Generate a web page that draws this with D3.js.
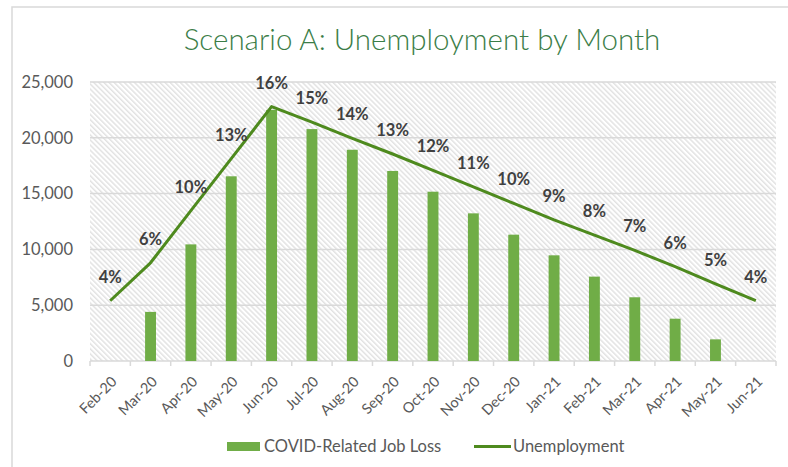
<!DOCTYPE html>
<html>
<head>
<meta charset="utf-8">
<script src="https://cdn.jsdelivr.net/npm/d3@7"></script>
<style>
  html, body { margin: 0; padding: 0; background: #fff; }
  svg { display: block; font-family: Lato, "Open Sans", sans-serif; }
</style>
</head>
<body>
<svg id="chart" width="788" height="467"></svg>
<script>
// Months on the category axis
const months = ["Feb-20","Mar-20","Apr-20","May-20","Jun-20","Jul-20","Aug-20","Sep-20",
  "Oct-20","Nov-20","Dec-20","Jan-21","Feb-21","Mar-21","Apr-21","May-21","Jun-21"];

// COVID-related job loss (bars)
const jobLoss = [0, 4400, 10450, 16550, 22500, 20780, 18930, 17030,
  15170, 13230, 11320, 9470, 7560, 5710, 3790, 1940, 0];

// Unemployment (line)
const unemployment = [5400, 8800, 13470, 18130, 22800, 21400, 19950, 18550,
  17090, 15600, 14120, 12650, 11280, 9910, 8450, 6900, 5400];

// Unemployment rate labels shown over the line
const rateLabels = ["4%","6%","10%","13%","16%","15%","14%","13%",
  "12%","11%","10%","9%","8%","7%","6%","5%","4%"];

const yTicks = [0, 5000, 10000, 15000, 20000, 25000];

const svg = d3.select("#chart");
const plot = { left: 90, right: 776, top: 82, bottom: 361 };

// Outer frame
svg.append("rect")
  .attr("x", 12).attr("y", 7).attr("width", 800).attr("height", 480)
  .attr("fill", "#fff").attr("stroke", "#d9d9d9").attr("stroke-width", 1.5);

// Title
svg.append("text")
  .attr("x", 422).attr("y", 49.5)
  .attr("text-anchor", "middle")
  .attr("fill", "#3b7d47")
  .style("font-size", "29.5px")
  .style("font-weight", 300)
  .text("Scenario A: Unemployment by Month");

const x = d3.scaleBand().domain(months).range([plot.left, plot.right]).padding(0);
const y = d3.scaleLinear().domain([0, 25000]).range([plot.bottom, plot.top]);

// Diagonal hatch fill for the plot area
const defs = svg.append("defs");
const pat = defs.append("pattern")
  .attr("id", "hatch")
  .attr("patternUnits", "userSpaceOnUse")
  .attr("width", 3.6).attr("height", 3.6)
  .attr("patternTransform", "rotate(-45)");
pat.append("rect").attr("width", 3.6).attr("height", 3.6).attr("fill", "#fff");
pat.append("line")
  .attr("x1", 0.8).attr("y1", 0).attr("x2", 0.8).attr("y2", 3.6)
  .attr("stroke", "#d4d4d4").attr("stroke-width", 1);

svg.append("rect")
  .attr("x", plot.left).attr("y", plot.top)
  .attr("width", plot.right - plot.left).attr("height", plot.bottom - plot.top)
  .attr("fill", "url(#hatch)");

// Horizontal gridlines
svg.append("g")
  .selectAll("line")
  .data(yTicks.filter(d => d > 0))
  .join("line")
  .attr("x1", plot.left).attr("x2", plot.right)
  .attr("y1", d => y(d)).attr("y2", d => y(d))
  .attr("stroke", "#d9d9d9").attr("stroke-width", 1.5);

// Y axis labels
const yAxis = d3.axisLeft(y).tickValues(yTicks).tickFormat(d3.format(",")).tickSize(0).tickPadding(0);
const gy = svg.append("g").attr("transform", `translate(73,0)`).call(yAxis);
gy.select(".domain").remove();
gy.selectAll("text")
  .attr("fill", "#595959")
  .style("font-size", "16.5px")
  .style("font-family", "Lato, sans-serif");

// X axis with ticks between categories
const gx = svg.append("g").attr("transform", `translate(0,${plot.bottom})`);
gx.append("line")
  .attr("x1", plot.left).attr("x2", plot.right)
  .attr("stroke", "#d9d9d9").attr("stroke-width", 1.5);
const boundaries = months.map(m => x(m)).concat([x(months[months.length - 1]) + x.bandwidth()]);
gx.selectAll("line.tick")
  .data(boundaries)
  .join("line")
  .attr("class", "tick")
  .attr("x1", d => d).attr("x2", d => d)
  .attr("y1", 0).attr("y2", 5)
  .attr("stroke", "#d9d9d9").attr("stroke-width", 1.5);
gx.selectAll("text")
  .data(months)
  .join("text")
  .attr("transform", d => `translate(${x(d) + x.bandwidth() / 2 + 4},${18}) rotate(-45)`)
  .attr("text-anchor", "end")
  .attr("dy", "0.35em")
  .attr("fill", "#595959")
  .style("font-size", "14.5px")
  .text(d => d);

// Bars
const barW = x.bandwidth() * 0.27;
svg.append("g")
  .selectAll("rect")
  .data(months.map((m, i) => ({ m, v: jobLoss[i] })).filter(d => d.v > 0))
  .join("rect")
  .attr("x", d => x(d.m) + x.bandwidth() / 2 - barW / 2)
  .attr("width", barW)
  .attr("y", d => y(d.v))
  .attr("height", d => y(0) - y(d.v))
  .attr("fill", "#70ad47");

// Unemployment line
const pts = months.map((m, i) => [x(m) + x.bandwidth() / 2, y(unemployment[i])]);
svg.append("path")
  .attr("d", d3.line()(pts))
  .attr("fill", "none")
  .attr("stroke", "#4e8a1e")
  .attr("stroke-width", 3)
  .attr("stroke-linejoin", "round");

// Rate labels above the line
svg.append("g")
  .selectAll("text")
  .data(pts)
  .join("text")
  .attr("x", d => d[0])
  .attr("y", d => d[1] - 18)
  .attr("text-anchor", "middle")
  .attr("fill", "#404040")
  .style("font-size", "16.5px")
  .style("font-weight", 700)
  .text((d, i) => rateLabels[i]);

// Legend
const lg = svg.append("g");
lg.append("rect")
  .attr("x", 227).attr("y", 442).attr("width", 33).attr("height", 9)
  .attr("fill", "#70ad47");
lg.append("text")
  .attr("x", 264).attr("y", 452)
  .attr("fill", "#595959").style("font-size", "16.5px")
  .text("COVID-Related Job Loss");
lg.append("line")
  .attr("x1", 474).attr("x2", 511).attr("y1", 446.5).attr("y2", 446.5)
  .attr("stroke", "#4e8a1e").attr("stroke-width", 3);
lg.append("text")
  .attr("x", 513).attr("y", 452)
  .attr("fill", "#595959").style("font-size", "16.5px")
  .text("Unemployment");
</script>
</body>
</html>
